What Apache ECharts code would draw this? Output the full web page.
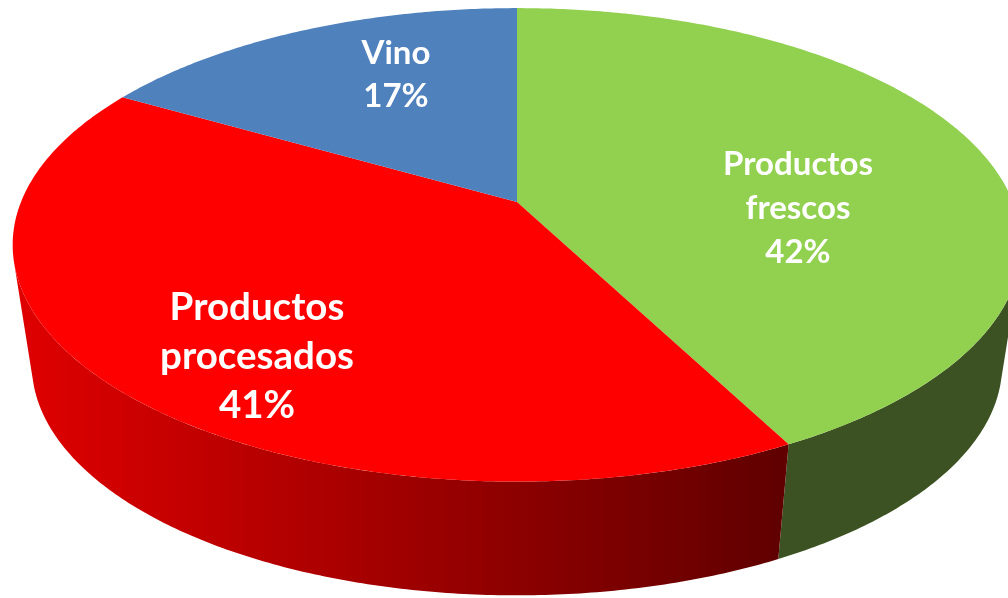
<!DOCTYPE html>
<html>
<head>
<meta charset="utf-8">
<title>Pie</title>
<script src="https://cdn.jsdelivr.net/npm/echarts@6/dist/echarts.min.js"></script>
<style>
    html, body { margin: 0; padding: 0; background: #fff; }
    #chartContainer { width: 1008px; height: 598px; }
</style>
</head>
<body>
<div id="chartContainer"></div>
<script>
// Data, clockwise from the top of the pie (estimated so they round to the printed 42/41/17)
const categories = ['Productos\nfrescos', 'Productos\nprocesados', 'Vino'];
const shares = [42.4, 40.9, 16.7];

// Styles per slice
const topColors = ['#92D050', '#FF0000', '#4F81BD'];
const wallColors = [
    '#3C5222',
    { type: 'linear', x: 15, y: 0, x2: 782, y2: 0, global: true, colorStops: [
        { offset: 0, color: '#E00000' },
        { offset: 1, color: '#600000' }
    ] },
    '#2F4D71'
];
const labelAnchors = [[798, 208], [257, 357], [396, 75]];
const labelSizes = [33, 38.5, 33];
const labelLineHeights = [44, 49, 43];

// Perspective of the disc: k is the foreshortening from front to back
const apex = { x: 517, y: 202 };
const radiusX = 496;
const radiusY = 229;
const k = 0.181;
// The lower rim is the same disc, moved down and a bit further away
const wallDrop = 121;
const wallScaleX = 0.962;
const wallScaleY = 0.974;
// Only this arc of the rim faces the viewer, past it the wall is behind the top
const frontArc = [105 / 180 * Math.PI, 255 / 180 * Math.PI];

const total = shares.reduce((sum, v) => sum + v, 0);

function sliceRange(index) {
    const before = shares.slice(0, index).reduce((sum, v) => sum + v, 0);
    return [before / total * Math.PI * 2, (before + shares[index]) / total * Math.PI * 2];
}

// Angle in radians from the top, clockwise, to a point on screen
function rimPoint(angle, lower) {
    const u = Math.sin(angle);
    const v = Math.cos(angle);
    const w = 1 + k * v;
    return [
        apex.x + radiusX * u / w * (lower ? wallScaleX : 1),
        apex.y + (lower ? wallDrop : 0) - radiusY * v / w * (lower ? wallScaleY : 1)
    ];
}

function rimPoints(range, lower) {
    const points = [];
    const steps = Math.ceil((range[1] - range[0]) / 0.01);
    for (let i = 0; i <= steps; i++) {
        points.push(rimPoint(range[0] + (range[1] - range[0]) * i / steps, lower));
    }
    return points;
}

function renderWall(params) {
    const range = sliceRange(params.dataIndex);
    const start = Math.max(range[0], frontArc[0]);
    const end = Math.min(range[1], frontArc[1]);
    if (start >= end) {
        return null;
    }
    const points = rimPoints([start, end], false).concat(rimPoints([start, end], true).reverse());
    return {
        type: 'polygon',
        shape: { points: points },
        style: { fill: wallColors[params.dataIndex] }
    };
}

function renderTop(params, api) {
    const index = params.dataIndex;
    const points = [[apex.x, apex.y]].concat(rimPoints(sliceRange(index), false));
    return {
        type: 'group',
        children: [
            {
                type: 'polygon',
                shape: { points: points },
                style: { fill: topColors[index] }
            },
            {
                type: 'text',
                z2: 10,
                x: labelAnchors[index][0],
                y: labelAnchors[index][1],
                style: {
                    text: categories[index] + '\n' + Math.round(api.value(0)) + '%',
                    fill: '#fff',
                    font: 'bold ' + labelSizes[index] + 'px Lato',
                    lineHeight: labelLineHeights[index],
                    align: 'center',
                    verticalAlign: 'middle'
                }
            }
        ]
    };
}

const myChart = echarts.init(document.getElementById('chartContainer'));
myChart.setOption({
    animation: false,
    backgroundColor: '#fff',
    series: [
        { type: 'custom', coordinateSystem: 'none', z: 1, data: shares.map(v => [v]), renderItem: renderWall },
        { type: 'custom', coordinateSystem: 'none', z: 2, data: shares.map(v => [v]), renderItem: renderTop }
    ]
});
</script>
</body>
</html>
